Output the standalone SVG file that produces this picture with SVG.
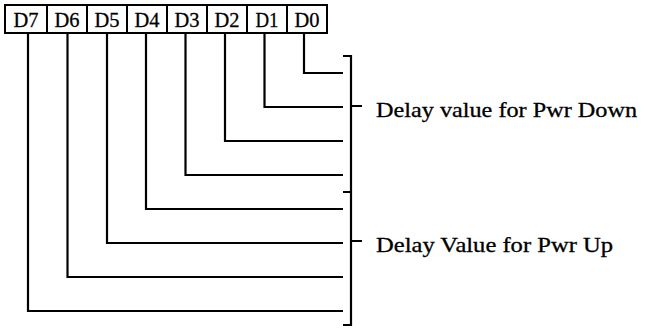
<svg xmlns="http://www.w3.org/2000/svg" width="650" height="328" viewBox="0 0 650 328">
<style>
.b{fill:#fff;stroke:#000;stroke-width:2}
.l{fill:none;stroke:#000;stroke-width:2.2}
.t{font-family:"Liberation Serif","Times New Roman",serif;fill:#000;stroke:#000;stroke-width:0.3}
.bt{font-size:22px;text-anchor:middle}
.lt{font-size:21px}
</style>
<rect width="650" height="328" fill="#fff"/>
<g id="register">
<g id="D7"><rect class="b" x="5" y="5" width="42" height="28"/><text class="t bt" x="26" y="27" textLength="25" lengthAdjust="spacingAndGlyphs">D7</text></g>
<g id="D6"><rect class="b" x="47" y="5" width="40" height="28"/><text class="t bt" x="67" y="27" textLength="25" lengthAdjust="spacingAndGlyphs">D6</text></g>
<g id="D5"><rect class="b" x="87" y="5" width="40" height="28"/><text class="t bt" x="107" y="27" textLength="25" lengthAdjust="spacingAndGlyphs">D5</text></g>
<g id="D4"><rect class="b" x="127" y="5" width="40" height="28"/><text class="t bt" x="147" y="27" textLength="25" lengthAdjust="spacingAndGlyphs">D4</text></g>
<g id="D3"><rect class="b" x="167" y="5" width="40" height="28"/><text class="t bt" x="187" y="27" textLength="25" lengthAdjust="spacingAndGlyphs">D3</text></g>
<g id="D2"><rect class="b" x="207" y="5" width="40" height="28"/><text class="t bt" x="227" y="27" textLength="25" lengthAdjust="spacingAndGlyphs">D2</text></g>
<g id="D1"><rect class="b" x="247" y="5" width="40" height="28"/><text class="t bt" x="267" y="27" textLength="23" lengthAdjust="spacingAndGlyphs">D1</text></g>
<g id="D0"><rect class="b" x="287" y="5" width="40" height="28"/><text class="t bt" x="307" y="27" textLength="25" lengthAdjust="spacingAndGlyphs">D0</text></g>
</g>
<g id="connectors">
<path class="l" d="M304,33 V73 H343"/>
<path class="l" d="M264.5,33 V107 H343"/>
<path class="l" d="M225,33 V141 H343"/>
<path class="l" d="M185.5,33 V175 H343"/>
<path class="l" d="M146,33 V209 H343"/>
<path class="l" d="M107,33 V243 H343"/>
<path class="l" d="M67.5,33 V277 H343"/>
<path class="l" d="M28,33 V311 H343"/>
<path class="l" d="M343,56 H351 V325 H343 M343,192 H351 M351,106 H362 M351,241 H362"/>
</g>
<g id="labels">
<text class="t lt" x="376" y="117" textLength="261" lengthAdjust="spacingAndGlyphs">Delay value for Pwr Down</text>
<text class="t lt" x="376" y="252" textLength="237" lengthAdjust="spacingAndGlyphs">Delay Value for Pwr Up</text>
</g>
</svg>
